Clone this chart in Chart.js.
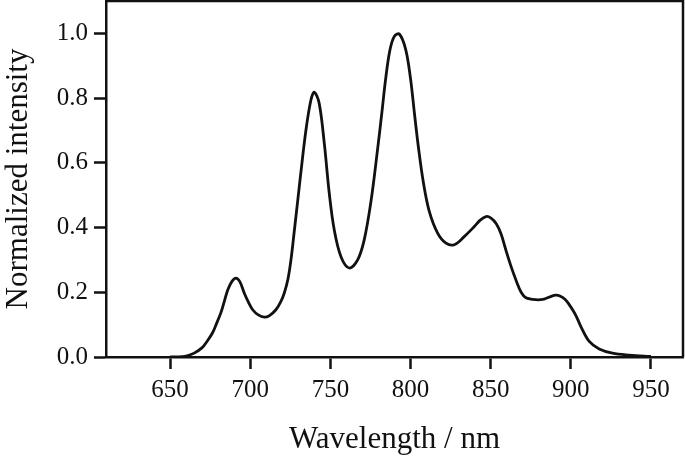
<!DOCTYPE html>
<html>
<head>
<meta charset="utf-8">
<script src="https://cdn.jsdelivr.net/npm/chart.js@4"></script>
<style>
  html, body { margin: 0; padding: 0; background: #fff; }
  #wrap { width: 685px; height: 458px; }
</style>
</head>
<body>
<div id="wrap"><canvas id="myChart" width="685" height="458"></canvas></div>
<script>
// wavelength (nm) and normalized intensity
var wavelength = [650, 655, 660, 665, 670, 673, 676.5, 679, 681.7, 684, 686, 688.5, 691, 693.5, 696.3, 699, 701.5, 705, 708.8, 712, 716, 719, 721.2, 723.5, 725.4, 727.5, 730, 732.5, 735, 737.9, 740, 743, 746.2, 749.3, 752.4, 756.6, 761.8, 767, 771.1, 775.3, 779.4, 782, 784.5, 787, 789.8, 793, 797, 800, 802.5, 805, 808, 811.7, 816.9, 822.1, 827.3, 833.5, 839.8, 843.5, 847.1, 850, 853.5, 856.5, 859.5, 862.7, 866, 869, 872, 878.3, 883.4, 887, 890.7, 893.5, 896.5, 899, 901.5, 903.5, 906.3, 911.5, 917.7, 926, 936.5, 949, 950];
var intensity = [0, 0, 0.003, 0.012, 0.029, 0.048, 0.075, 0.104, 0.137, 0.175, 0.208, 0.233, 0.244, 0.233, 0.197, 0.168, 0.146, 0.13, 0.123, 0.128, 0.146, 0.17, 0.197, 0.24, 0.3, 0.39, 0.5, 0.61, 0.71, 0.795, 0.818, 0.784, 0.66, 0.506, 0.393, 0.31, 0.275, 0.3, 0.362, 0.48, 0.64, 0.75, 0.86, 0.945, 0.99, 0.998, 0.95, 0.86, 0.75, 0.645, 0.54, 0.45, 0.383, 0.352, 0.347, 0.372, 0.403, 0.423, 0.434, 0.43, 0.412, 0.38, 0.33, 0.28, 0.235, 0.2, 0.183, 0.177, 0.179, 0.186, 0.191, 0.188, 0.178, 0.162, 0.143, 0.125, 0.094, 0.048, 0.025, 0.012, 0.006, 0.002, 0.002];

var xTicks = [650, 700, 750, 800, 850, 900, 950];
var yTicks = [0, 0.2, 0.4, 0.6, 0.8, 1.0];

var points = [];
for (var i = 0; i < wavelength.length; i++) {
  points.push({x: wavelength[i], y: intensity[i]});
}

var serif = "'Liberation Serif', 'DejaVu Serif', serif";

// top and right sides of the frame
var frame = {
  id: 'frame',
  afterDraw: function(chart) {
    var a = chart.chartArea, ctx = chart.ctx;
    ctx.save();
    ctx.strokeStyle = '#111';
    ctx.lineWidth = 2.5;
    ctx.beginPath();
    ctx.moveTo(a.left, a.top);
    ctx.lineTo(a.right, a.top);
    ctx.lineTo(a.right, a.bottom);
    ctx.stroke();
    ctx.restore();
  }
};

new Chart("myChart", {
  type: "line",
  data: {
    datasets: [{
      data: points,
      borderColor: "#111",
      borderWidth: 2.8,
      pointRadius: 0,
      fill: false,
      tension: 0.35
    }]
  },
  options: {
    responsive: false,
    animation: false,
    layout: {padding: {top: 1, right: 2, left: 0, bottom: 0}},
    plugins: {legend: {display: false}, tooltip: {enabled: false}},
    scales: {
      x: {
        type: "linear",
        min: 610,
        max: 970,
        afterBuildTicks: function(s) { s.ticks = xTicks.map(function(v) { return {value: v}; }); },
        afterFit: function(s) { s.height = 101; s.paddingLeft = 0; s.paddingRight = 0; },
        grid: {drawOnChartArea: false, drawTicks: true, tickLength: 12, tickColor: "#111", tickWidth: 2.5},
        border: {display: true, color: "#111", width: 2.5},
        ticks: {color: "#111", font: {family: serif, size: 25}, padding: 6, maxRotation: 0},
        title: {display: true, text: "Wavelength / nm", color: "#111", font: {family: serif, size: 31}, padding: {top: 0, bottom: 0}}
      },
      y: {
        min: 0,
        max: 1.1,
        afterBuildTicks: function(s) { s.ticks = yTicks.map(function(v) { return {value: v}; }); },
        afterFit: function(s) { s.width = 106; s.paddingTop = 0; s.paddingBottom = 0; },
        grid: {drawOnChartArea: false, drawTicks: true, tickLength: 12, tickColor: "#111", tickWidth: 2.5},
        border: {display: true, color: "#111", width: 2.5},
        ticks: {color: "#111", font: {family: serif, size: 25}, padding: 6, callback: function(v) { return v.toFixed(1); }},
        title: {display: true, text: "Normalized intensity", color: "#111", font: {family: serif, size: 31}, padding: {top: 0, bottom: 0}}
      }
    }
  },
  plugins: [frame]
});
</script>
</body>
</html>
